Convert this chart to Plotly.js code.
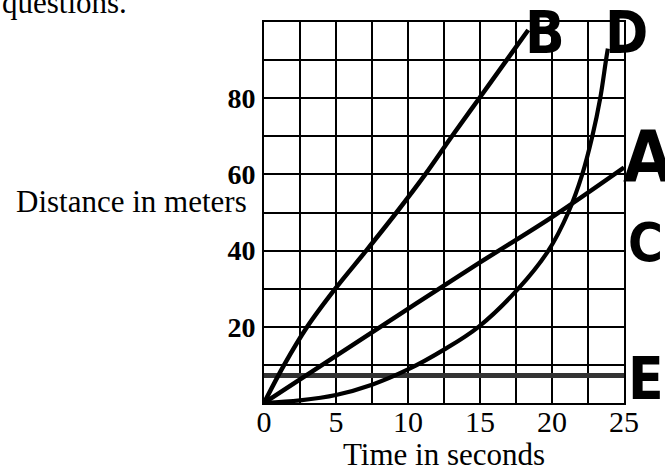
<!DOCTYPE html>
<html>
<head>
<meta charset="utf-8">
<script src="https://cdn.plot.ly/plotly-3.0.1.min.js"></script>
<style>html,body{margin:0;padding:0;background:#fff;}#chart{width:665px;height:472px;}</style>
</head>
<body>
<div id="chart"></div>
<script>
// Time (s) and distance (m) readings for each graph line
const timeA = [0, 5, 10, 15, 20, 25];
const distA = [0, 12.4, 24.7, 36.9, 48.8, 61.8];

const timeB = [0, 1.4, 3.0, 4.95, 7.1, 9.2, 11.2, 13.05, 14.95, 16.85, 18.35];
const distB = [0, 10, 20, 30, 40, 50, 60, 70, 80, 90, 97.9];

const timeCD = [0, 2.5, 5, 7.5, 10, 12.5, 14.9, 17.66, 19.75, 21.13, 22.1, 22.8, 23.35, 23.75, 23.88];
const distCD = [0, 0.7, 2.1, 4.8, 8.8, 14, 20, 30, 40, 50, 60, 70, 80, 90, 93];

const timeE = [-0.1, 25.1];
const distE = [7.2, 7.2];

const xTickVals = [0, 5, 10, 15, 20, 25];
const xTickText = ['0', '5', '10', '15', '20', '25'];
const yTickVals = [20, 40, 60, 80];
const yTickText = ['20', '40', '60', '80'];
const yMinorVals = [10, 30, 50, 70, 90];

// Line labels (B and D in data units; A, C, E past the right edge in paper units)
const labelText = ['B', 'D', 'A', 'C', 'E'];
const labelXRef = ['x', 'x', 'paper', 'paper', 'paper'];
const labelX = [17.99, 23.54, 0.9917, 1.0056, 1.0056];
const labelY = [97.0, 97.0, 64.8, 42.1, 6.4];
const labelSize = [58, 58, 72, 53, 58];

const serif = '"Liberation Serif", "Times New Roman", Times, serif';
const narrow = '"Liberation Sans Narrow", "Arial Narrow", "DejaVu Sans Condensed", "Liberation Sans", Arial, sans-serif';

const lineStyle = (w) => ({ color: '#000', width: w, shape: 'spline', smoothing: 1 });

const traces = [
  { x: timeE, y: distE, mode: 'lines', line: { color: '#333', width: 5 }, cliponaxis: false },
  { x: timeA, y: distA, mode: 'lines', line: lineStyle(4.5), cliponaxis: false },
  { x: timeB, y: distB, mode: 'lines', line: lineStyle(4.5), cliponaxis: false },
  { x: timeCD, y: distCD, mode: 'lines', line: lineStyle(4.2), cliponaxis: false }
];

const annotations = labelText.map((t, i) => ({
  text: '<b>' + t + '</b>', x: labelX[i], y: labelY[i], xref: labelXRef[i], yref: 'y',
  xanchor: 'left', yanchor: 'middle', showarrow: false,
  font: { family: narrow, size: labelSize[i], color: '#000' }
}));

annotations.push({
  text: 'Distance in meters', xref: 'paper', yref: 'y', x: (131 - 264) / 360, y: 53,
  xanchor: 'center', yanchor: 'middle', showarrow: false,
  font: { family: serif, size: 31, color: '#000' }
});
annotations.push({
  text: 'questions.', xref: 'paper', yref: 'paper', x: -264 / 360, y: 1,
  xanchor: 'left', yanchor: 'bottom', showarrow: false,
  font: { family: serif, size: 31, color: '#000' }
});

const layout = {
  width: 665, height: 472,
  margin: { l: 264, r: 41, t: 22, b: 69 },
  paper_bgcolor: '#fff', plot_bgcolor: '#fff',
  showlegend: false,
  xaxis: {
    range: [0, 25], tickmode: 'array', tickvals: xTickVals, ticktext: xTickText,
    showgrid: true, gridcolor: '#000', gridwidth: 2,
    minor: { tickmode: 'linear', tick0: 0, dtick: 2.5, showgrid: true, gridcolor: '#000', gridwidth: 2, ticks: '' },
    showline: true, mirror: true, linecolor: '#000', linewidth: 2,
    zeroline: false, ticks: '', ticklabelstandoff: -9,
    tickfont: { family: serif, size: 30, color: '#000' },
    title: { text: 'Time in seconds', font: { family: serif, size: 31, color: '#000' }, standoff: 7 },
    fixedrange: true, automargin: false
  },
  yaxis: {
    range: [0, 100], tickmode: 'array', tickvals: yTickVals, ticktext: yTickText,
    showgrid: true, gridcolor: '#000', gridwidth: 2,
    minor: { tickmode: 'array', tickvals: yMinorVals, showgrid: true, gridcolor: '#000', gridwidth: 2, ticks: '' },
    showline: true, mirror: true, linecolor: '#000', linewidth: 2,
    zeroline: false, ticks: '', ticklabelstandoff: 1,
    tickfont: { family: serif, size: 28, color: '#000', weight: 700 },
    fixedrange: true, automargin: false
  },
  annotations: annotations
};

Plotly.newPlot('chart', traces, layout, { displayModeBar: false, staticPlot: true });
</script>
</body>
</html>
